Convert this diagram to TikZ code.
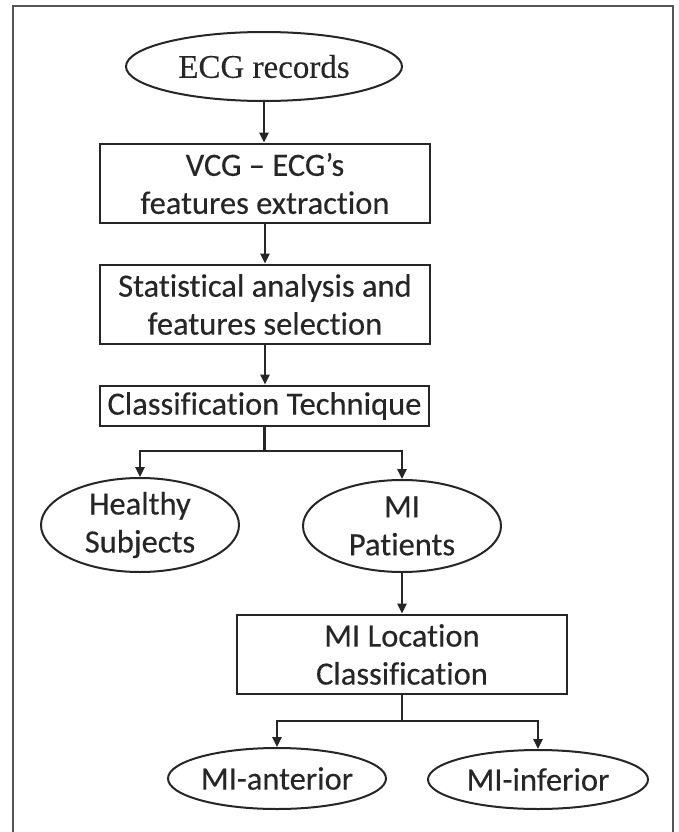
\documentclass[tikz,border=0pt]{standalone}
\usepackage{fontspec}
\newfontfamily\calfont[Ligatures=NoCommon,FakeBold=0.3]{Carlito}
\newfontfamily\tmsfont[FakeBold=0.2]{Liberation Serif}
\usetikzlibrary{shapes.geometric,arrows.meta}
\definecolor{ink}{HTML}{262626}
\definecolor{frame}{HTML}{555555}
\tikzset{
  flowbox/.style={draw=ink, line width=2.8pt, rectangle, inner sep=0pt, text=ink, align=center,
     font=\calfont\fontsize{32.5}{38}\selectfont},
  flowoval/.style={draw=ink, line width=2pt, ellipse, inner sep=0pt, text=ink, align=center,
     font=\calfont\fontsize{32.5}{38}\selectfont},
  flowarrow/.style={draw=ink, line width=2.4pt, -{Triangle[length=10pt,width=9pt]}},
  flowline/.style={draw=ink, line width=2.4pt},
}
\begin{document}
\begin{tikzpicture}[x=1pt,y=-1pt]
\useasboundingbox (0,0) rectangle (678,832);
\fill[white] (0,0) rectangle (678,832);
\draw[frame, line width=1.8pt] (13,6) rectangle (673,845);

\node[flowoval, minimum width=276pt, minimum height=69pt, font=\tmsfont\fontsize{33}{38}\selectfont] (ecg) at (264,66.5) {ECG records};
\node[flowbox, minimum width=330pt, minimum height=79pt] (vcg) at (265,183.5) {VCG – ECG’s\\features extraction};
\node[flowbox, minimum width=330pt, minimum height=79pt] (stat) at (265,304.5) {Statistical analysis and\\features selection};
\node[flowbox, minimum width=329pt, minimum height=40pt] (cls) at (264.5,406) {Classification Technique};
\node[flowoval, minimum width=198pt, minimum height=94pt] (healthy) at (140,525) {Healthy\\Subjects};
\node[flowoval, minimum width=198pt, minimum height=92pt] (mip) at (402,526) {MI\\Patients};
\node[flowbox, minimum width=330pt, minimum height=79pt] (loc) at (402,654.5) {MI Location\\Classification};
\node[flowoval, minimum width=218pt, minimum height=61pt] (ant) at (277,778.5) {MI-anterior};
\node[flowoval, minimum width=220pt, minimum height=59pt] (inf) at (538,779.5) {MI-inferior};

\coordinate (j1) at (264.5,451);
\coordinate (j2) at (402,721);

\draw[flowarrow] (ecg.south) -- (ecg.south |- vcg.north);
\draw[flowarrow] (vcg.south) -- (vcg.south |- stat.north);
\draw[flowarrow] (stat.south) -- (stat.south |- cls.north);
\draw[flowline] (cls.south) -- (j1);
\draw[flowarrow] (j1) -| (healthy.north);
\draw[flowarrow] (j1) -| (mip.north);
\draw[flowarrow] (mip.south) -- (loc.north);
\draw[flowline] (loc.south) -- (j2);
\draw[flowarrow] (j2) -| (ant.north);
\draw[flowarrow] (j2) -| (inf.north);
\end{tikzpicture}
\end{document}
